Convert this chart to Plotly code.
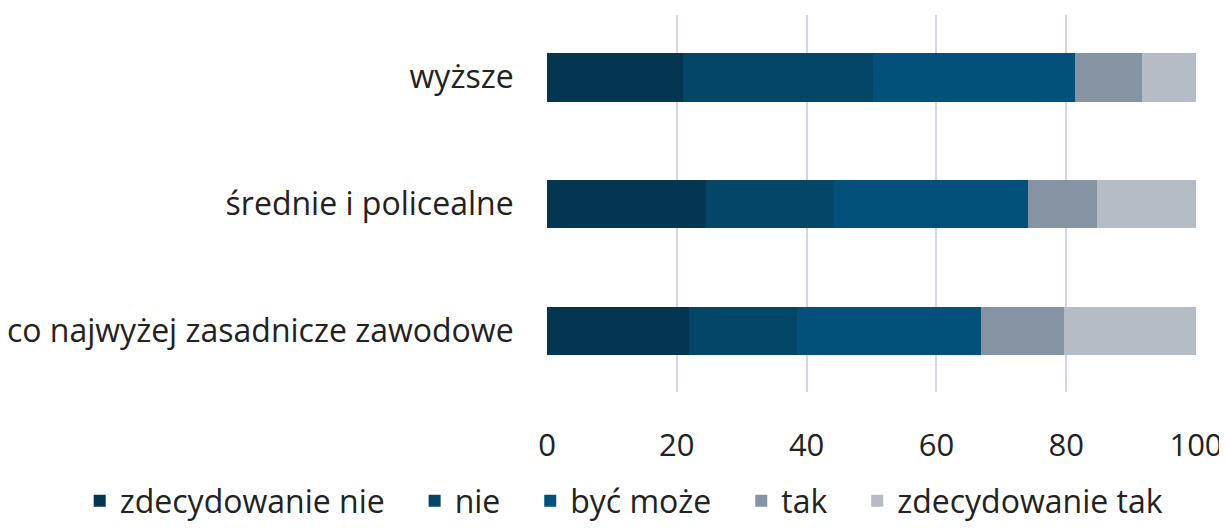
import plotly.graph_objects as go

categories = ["co najwyżej zasadnicze zawodowe", "średnie i policealne", "wyższe"]
series_names = ["zdecydowanie nie", "nie", "być może", "tak", "zdecydowanie tak"]
zdecydowanie_nie = [21.9, 24.5, 21.0]
nie = [16.6, 19.7, 29.3]
byc_moze = [28.3, 29.9, 31.0]
tak = [12.9, 10.6, 10.4]
zdecydowanie_tak = [20.3, 15.3, 8.3]
x_ticks = [0, 20, 40, 60, 80, 100]

colors = ["#043551", "#044667", "#03507a", "#8593a2", "#b5bcc6"]
values = [zdecydowanie_nie, nie, byc_moze, tak, zdecydowanie_tak]

fig = go.Figure()
for i, (name, vals, col) in enumerate(zip(series_names, values, colors)):
    pad = "\u00a0\u00a0\u00a0" if i < len(series_names) - 1 else ""
    fig.add_trace(go.Bar(
        y=categories, x=vals, name=name + pad, orientation="h",
        marker=dict(color=col, line=dict(width=0)),
    ))

font_family = "Open Sans, Liberation Sans, sans-serif"
fig.update_layout(
    barmode="stack",
    bargap=0.617,
    width=1227, height=528,
    margin=dict(l=539, r=39, t=7, b=141),
    paper_bgcolor="white", plot_bgcolor="white",
    font=dict(family=font_family, size=32, color="#222222"),
    showlegend=True,
    legend=dict(
        orientation="h", x=-0.72, xanchor="left", y=-0.289, yanchor="middle",
        font=dict(size=32, color="#222222"), traceorder="normal",
        itemwidth=30,
    ),
    xaxis=dict(
        range=[0, 100], tickvals=x_ticks, showgrid=True,
        gridcolor="#d6d3f2", gridwidth=2, zeroline=False,
        ticks="outside", ticklen=26, tickcolor="rgba(0,0,0,0)",
        tickfont=dict(size=31, color="#222222"), showline=False,
        automargin=False,
    ),
    yaxis=dict(
        range=[-0.48, 2.49],
        showgrid=False, ticks="outside", ticklen=26, tickcolor="rgba(0,0,0,0)",
        tickfont=dict(size=32, color="#222222"), showline=False,
        automargin=False,
    ),
)

fig.write_html("out.html")
